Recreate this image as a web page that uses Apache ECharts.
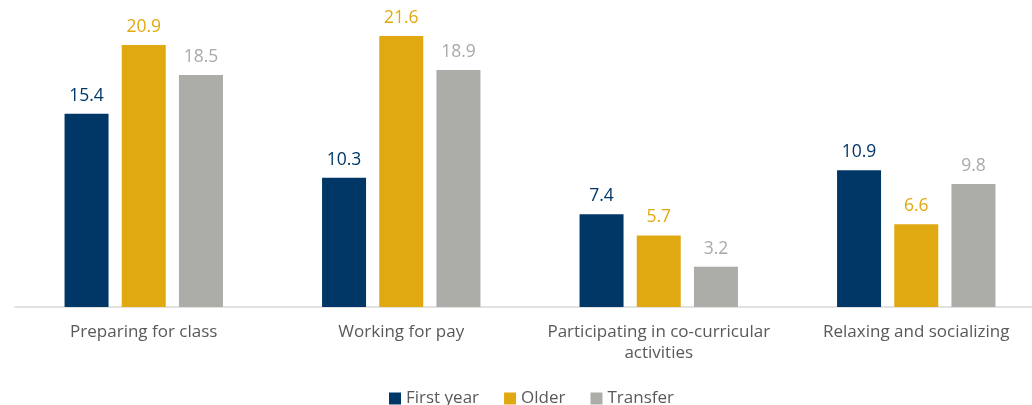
<!DOCTYPE html>
<html>
<head>
<meta charset="utf-8">
<script src="https://cdn.jsdelivr.net/npm/echarts@6/dist/echarts.min.js"></script>
<style>
  html, body { margin: 0; padding: 0; background: #fff; overflow: hidden; }
  #chart { width: 1050px; height: 405px; }
</style>
</head>
<body>
<div id="chart"></div>
<script>
const categories = [
  'Preparing for class',
  'Working for pay',
  'Participating in co-curricular\nactivities',
  'Relaxing and socializing'
];
const firstYear = [15.4, 10.3, 7.4, 10.9];
const older = [20.9, 21.6, 5.7, 6.6];
const transfer = [18.5, 18.9, 3.2, 9.8];

const font = '"Open Sans", "Noto Sans", sans-serif';

function bar(name, data, color, labelColor) {
  return {
    name: name,
    type: 'bar',
    data: data,
    barWidth: 44,
    barGap: '30%',
    itemStyle: { color: color },
    label: {
      show: true,
      position: 'top',
      distance: 9,
      color: labelColor,
      fontFamily: font,
      fontSize: 17.5,
      formatter: (p) => p.value.toFixed(1)
    }
  };
}

const chart = echarts.init(document.getElementById('chart'));
chart.setOption({
  animation: false,
  textStyle: { fontFamily: font },
  // canvas is a bit wider than the window: the last category runs past the right edge
  grid: { left: 15, right: 5, top: 6, bottom: 98 },
  legend: {
    bottom: -7,
    left: 384,
    itemWidth: 12,
    itemHeight: 12,
    itemGap: 25,
    icon: 'rect',
    textStyle: { fontSize: 17, color: '#595959', fontFamily: font },
    data: ['First year', 'Older', 'Transfer']
  },
  xAxis: {
    type: 'category',
    data: categories,
    axisLine: { lineStyle: { color: '#d9d9d9', width: 1.5 } },
    axisTick: { show: false },
    axisLabel: {
      color: '#595959',
      fontSize: 17,
      lineHeight: 21,
      margin: 15,
      interval: 0,
      fontFamily: font
    }
  },
  yAxis: {
    type: 'value',
    min: 0,
    max: 24,
    show: false,
    splitLine: { show: false }
  },
  series: [
    bar('First year', firstYear, '#003767', '#003767'),
    bar('Older', older, '#e0a912', '#e0a912'),
    bar('Transfer', transfer, '#acada8', '#a9aaa6')
  ]
});
</script>
</body>
</html>
